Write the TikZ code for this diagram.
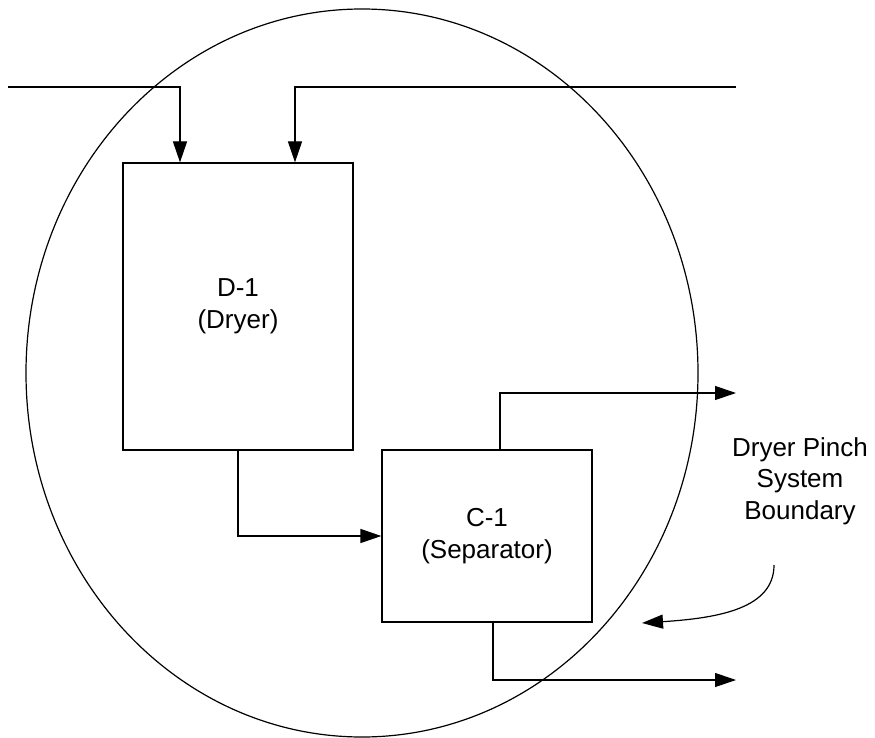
\documentclass[tikz,border=0pt]{standalone}
\usepackage{fontspec}
\setmainfont{Liberation Sans}
\usetikzlibrary{arrows.meta,positioning,shapes.geometric}
\tikzset{
  unit/.style={draw,rectangle,align=center,inner sep=0pt,
               font=\fontsize{26}{31.5}\selectfont},
  bound/.style={draw,ellipse,inner sep=0pt,minimum width=672pt,minimum height=728pt},
  flow/.style={-{Triangle[length=21pt,width=14pt]},line width=1.2pt},
  lbl/.style={align=center,font=\fontsize{26}{31.5}\selectfont},
}
\begin{document}
\begin{tikzpicture}[x=1pt,y=-1pt,line width=1.2pt]
  \useasboundingbox (0,0) rectangle (875,738);
  \node[bound] (sys) at (362,373) {};

  \node[unit,minimum width=230pt,minimum height=287pt] (dryer) at (238,306.5) {D-1\\(Dryer)};
  \node[unit,minimum width=210pt,minimum height=172pt] (sep)   at (487,536)   {C-1\\(Separator)};

  % feeds from the left and from the right
  \coordinate (feedA) at (8,87);
  \coordinate (feedB) at (736,87);
  \draw[flow] (feedA) -| ([xshift=-58pt]dryer.north);
  \draw[flow] (feedB) -| ([xshift=57pt]dryer.north);

  \draw[flow] (dryer.south) |- (sep.west);

  \coordinate (vapour) at (736,393);
  \coordinate (solids) at (736,680);
  \draw[flow] ([xshift=13pt]sep.north) |- (vapour);
  \draw[flow] ([xshift=6pt]sep.south) |- (solids);

  \node[lbl] (note) at (800,481) {Dryer Pinch\\System\\Boundary};
  \coordinate (tail) at (774,565);
  \coordinate (tip)  at (642,623);
  \draw[flow] (tail) .. controls (774,608) and (720,618) .. (tip);
\end{tikzpicture}
\end{document}
